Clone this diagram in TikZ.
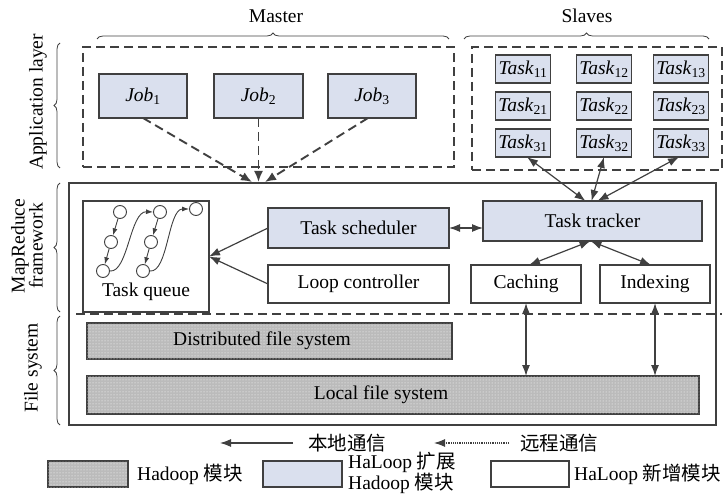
\documentclass[tikz,border=0pt]{standalone}
\usepackage{fontspec}
\setmainfont{Liberation Serif}
\newfontfamily\cjk{Noto Sans CJK SC}
\usetikzlibrary{arrows.meta,patterns,decorations.pathreplacing,calc}
\definecolor{ln}{HTML}{404040}
\definecolor{bluef}{HTML}{DAE0EE}
\definecolor{grayf}{HTML}{BBBBBB}
\begin{document}
\begin{tikzpicture}[x=1pt,y=-1pt,
  font=\fontsize{19.5}{22}\selectfont,
  base/.style={draw=ln, line width=1.1pt, inner sep=0pt, outer sep=0pt},
  bluebox/.style={base, fill=bluef},
  whitebox/.style={base, fill=white},
  graybox/.style={base, fill=grayf, postaction={pattern=dots, pattern color=white}},
  dbox/.style={draw=ln, line width=1.9pt, dash pattern=on 9pt off 5pt, inner sep=0pt, outer sep=0pt},
  dline/.style={draw=ln, line width=1.5pt, dash pattern=on 9pt off 5pt},
  jarr/.style={draw=ln, line width=1.9pt, dash pattern=on 9pt off 5pt, -{Latex[length=11pt,width=9pt]}},
  arr/.style={draw=ln, line width=1.2pt, -{Latex[length=11pt,width=8pt]}},
  darr/.style={draw=ln, line width=1.2pt, {Latex[length=11pt,width=8pt]}-{Latex[length=11pt,width=8pt]}},
  sarr/.style={draw=ln, line width=0.9pt, -{Latex[length=7pt,width=5pt]}},
  qc/.style={circle, draw=ln, line width=0.9pt, fill=white, minimum size=13pt, inner sep=0pt},
  mybrace/.style={decorate, decoration={brace, amplitude=6pt}, draw=ln, line width=0.8pt},
]
\useasboundingbox (0,0) rectangle (728,494);

% top labels and braces
\node (master) at (276,16) {Master};
\node (slaves) at (587,16) {Slaves};
\draw[mybrace] (97,39) -- (449,39);
\draw[mybrace] (464,39) -- (709,39);

% side braces and labels
\draw[mybrace] (60,168) -- (60,43);
\draw[mybrace] (60,312) -- (60,183);
\draw[mybrace] (60,425) -- (60,316);
\node[rotate=90] (applab) at (38,102) {Application layer};
\node[rotate=90, align=center, font=\fontsize{19.5}{18}\selectfont] (mrlab) at (27,246) {MapReduce\\framework};
\node[rotate=90] (fslab) at (33,368) {File system};

% master
\node[dbox, minimum width=371, minimum height=120] (mbox) at (268.5,107) {};
\node[bluebox, minimum width=88, minimum height=44] (job1) at (143,96) {\textit{Job}\textsubscript{1}};
\node[bluebox, minimum width=89, minimum height=44] (job2) at (258.5,96) {\textit{Job}\textsubscript{2}};
\node[bluebox, minimum width=88, minimum height=44] (job3) at (372,96) {\textit{Job}\textsubscript{3}};

% slaves
\node[dbox, minimum width=250, minimum height=123] (sbox) at (597,108.5) {};
\foreach \r/\y in {1/69,2/106,3/143}{
  \foreach \c/\x in {1/523,2/604,3/681}{
    \node[bluebox, minimum width=55, minimum height=28] (t\r\c) at (\x,\y) {\textit{Task}\textsubscript{\r\c}};
  }
}

% mapreduce + file system frame
\node[base, minimum width=647, minimum height=242] (mr) at (392.5,304) {};
\coordinate (sepL) at (76,314);
\coordinate (sepR) at (722,314);
\draw[dline] (sepL) -- (sepR);

\node[base, fill=white, minimum width=126, minimum height=111] (tq) at (146,256.5) {};
\node (tqlab) at (146,292) {Task queue};
\node[bluebox, minimum width=181, minimum height=40] (ts) at (358.5,228) {Task scheduler};
\node[whitebox, minimum width=181, minimum height=38] (lc) at (358.5,284) {Loop controller};
\node[bluebox, minimum width=219, minimum height=40] (tt) at (592.5,221) {Task tracker};
\node[whitebox, minimum width=110, minimum height=38] (cach) at (526,284) {Caching};
\node[whitebox, minimum width=110, minimum height=38] (idx) at (655,284) {Indexing};

\node[graybox, minimum width=365, minimum height=36] (dfs) at (269.5,341) {};
\node (dfslab) at (262,341) {Distributed file system};
\node[graybox, minimum width=612, minimum height=38] (lfs) at (393,395) {};
\node (lfslab) at (381,395) {Local file system};

% task queue internals
\node[qc] (q1a) at (120,212) {};
\node[qc] (q1b) at (111,242) {};
\node[qc] (q1c) at (103,271) {};
\node[qc] (q2a) at (160,212) {};
\node[qc] (q2b) at (151,242) {};
\node[qc] (q2c) at (143,271) {};
\node[qc] (q3a) at (196,209) {};
\draw[sarr] (q1a) -- (q1b);
\draw[sarr] (q1b) -- (q1c);
\draw[sarr] (q2a) -- (q2b);
\draw[sarr] (q2b) -- (q2c);
\draw[sarr] (q1c.east) .. controls (128,273) and (130,211) .. (q2a.west);
\draw[sarr] (q2c.east) .. controls (168,273) and (168,209) .. (q3a.west);

% job arrows
\coordinate (c1) at (252,182);
\coordinate (c2) at (258.5,182);
\coordinate (c3) at (265,182);
\draw[jarr] (job1.south) -- (c1);
\draw[jarr] (job2.south) -- (c2);
\draw[jarr] ($(job3.south)+(-4,0)$) -- (c3);

% tracker arrows
\draw[darr] ($(tt.north)+(-7,0)$) -- ($(t31.south)+(4,0)$);
\draw[darr] ($(tt.north)+(-1,0)$) -- (t32.south);
\draw[darr] ($(tt.north)+(5,0)$) -- ($(t33.south)+(-2,0)$);
\draw[darr] (ts.east) -- (ts.east -| tt.west);
\draw[darr] ($(tt.south)+(-2,0)$) -- ($(cach.north)+(3,0)$);
\draw[darr] ($(tt.south)+(-2,0)$) -- ($(idx.north)+(-4,0)$);
\draw[arr] (ts.west) -- (tq.east);
\draw[arr] (lc.west) -- (tq.east);
\draw[darr] (cach.south) -- (cach.south |- lfs.north);
\draw[darr] (idx.south) -- (idx.south |- lfs.north);

% legend
\coordinate (la1) at (293,443);
\coordinate (la2) at (220,443);
\draw[arr] (la1) -- (la2);
\node (loc) at (347,443) {\cjk 本地通信};
\coordinate (lb1) at (509,443);
\coordinate (lb2) at (434,443);
\draw[draw=ln, line width=1.1pt, dash pattern=on 1.2pt off 1pt, -{Latex[length=11pt,width=8pt]}] (lb1) -- (lb2);
\node (rem) at (559,443) {\cjk 远程通信};

\node[graybox, minimum width=80, minimum height=26] (lg1) at (88,474) {};
\node[anchor=west, inner sep=0pt] (lt1) at (137,474) {Hadoop {\cjk 模块}};
\node[bluebox, minimum width=79, minimum height=26] (lg2) at (302.5,474) {};
\node[anchor=west, inner sep=0pt, align=left, font=\fontsize{19.5}{19}\selectfont] (lt2) at (348,473) {HaLoop {\cjk 扩展}\\Hadoop {\cjk 模块}};
\node[whitebox, minimum width=78, minimum height=26] (lg3) at (530,474) {};
\node[anchor=west, inner sep=0pt] (lt3) at (574,474) {HaLoop {\cjk 新增模块}};
\end{tikzpicture}
\end{document}
